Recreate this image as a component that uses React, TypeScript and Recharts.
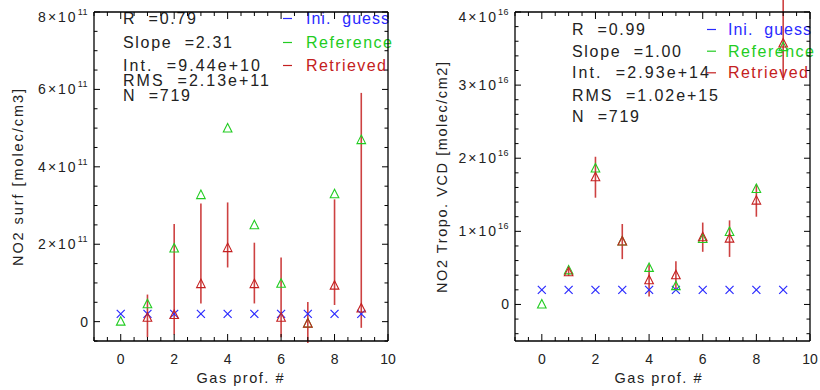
import React from "react";
import { ScatterChart, Scatter, XAxis, YAxis, ErrorBar } from "recharts";

// gas profile index
const profiles = [0, 1, 2, 3, 4, 5, 6, 7, 8, 9];

// NO2 surface concentration [molec/cm3]
const surfIni = [2.0e10, 2.0e10, 2.0e10, 2.0e10, 2.0e10, 2.0e10, 2.0e10, 2.0e10, 2.0e10, 2.0e10];
const surfRef = [0, 4.5e10, 1.89e11, 3.27e11, 4.99e11, 2.49e11, 0.98e11, -0.05e11, 3.29e11, 4.69e11];
const surfRet = [null, 1.0e10, 1.7e10, 0.97e11, 1.9e11, 0.97e11, 0.1e11, -0.05e11, 0.93e11, 0.34e11];
const surfErr = [null, 6.0e10, 2.35e11, 2.08e11, 1.18e11, 1.07e11, 1.56e11, 0.56e11, 2.23e11, 5.57e11];

// NO2 tropospheric VCD [molec/cm2]
const vcdIni = [2.0e15, 2.0e15, 2.0e15, 2.0e15, 2.0e15, 2.0e15, 2.0e15, 2.0e15, 2.0e15, 2.0e15];
const vcdRef = [0, 0.466e16, 1.86e16, 0.86e16, 0.5e16, 0.25e16, 0.895e16, 0.99e16, 1.58e16, 3.52e16];
const vcdRet = [null, 0.44e16, 1.74e16, 0.86e16, 0.33e16, 0.4e16, 0.92e16, 0.9e16, 1.42e16, 3.57e16];
const vcdErr = [null, 0.05e16, 0.28e16, 0.24e16, 0.22e16, 0.19e16, 0.2e16, 0.25e16, 0.22e16, 0.62e16];

// statistics text
const surfStats = ["R  =0.79", "Slope  =2.31", "Int.  =9.44e+10", "RMS  =2.13e+11", "N  =719"];
const vcdStats = ["R  =0.99", "Slope  =1.00", "Int.  =2.93e+14", "RMS  =1.02e+15", "N  =719"];
const legendNames = ["Ini.  guess", "Reference", "Retrieved"];

const xMajor = [0, 2, 4, 6, 8, 10];
const surfMajor = [0, 2e11, 4e11, 6e11, 8e11];
const vcdMajor = [0, 1e16, 2e16, 3e16, 4e16];

// printed widths of the text lines (px)
const statWidths = [73, 109, 137, 146, 67];
const legendWidths = [83, 86, 80];

const BLUE = "#2a2aff";
const GREEN = "#22cc22";
const RED = "#c42020";
const FONT = "'Liberation Sans', Arial, Helvetica, sans-serif";

function steps(from: number, to: number, step: number) {
  const start = Math.ceil(from / step - 1e-6);
  const out: number[] = [];
  for (let i = start; i * step <= to + step * 1e-6; i++) out.push(Number((i * step).toPrecision(10)));
  return out;
}

const isMajor = (v: number, majors: number[], step: number) => majors.some((m) => Math.abs(m - v) < step * 0.01);

const Cross = (p: any) => {
  const { cx, cy } = p;
  if (cx == null || cy == null) return null;
  return (
    <path
      d={`M${cx - 4},${cy - 4}L${cx + 4},${cy + 4}M${cx - 4},${cy + 4}L${cx + 4},${cy - 4}`}
      stroke={BLUE}
      strokeWidth={1.2}
      fill="none"
    />
  );
};

const triangle = (color: string) => (p: any) => {
  const { cx, cy } = p;
  if (cx == null || cy == null) return null;
  return (
    <path
      d={`M${cx},${cy - 5}L${cx + 4.3},${cy + 3.5}L${cx - 4.3},${cy + 3.5}Z`}
      stroke={color}
      strokeWidth={1.1}
      fill="none"
    />
  );
};

type PanelProps = {
  ini: number[];
  refv: number[];
  ret: (number | null)[];
  err: (number | null)[];
  yDomain: [number, number];
  yStep: number;
  yMajor: number[];
  unit: number;
  exp: string;
  leftW: number;
  rightW: number;
  stats: string[];
  statX: number;
  statY: number[];
  legDash: number;
  legX: number;
  yLabel: string;
  yLabelX: number;
  yLabelLen: number;
  xLabelX: number;
};

function Panel(props: PanelProps) {
  const { ini, refv, ret, err, yDomain, yStep, yMajor, unit, exp } = props;
  const iniData = profiles.map((x, i) => ({ x, y: ini[i] }));
  const refData = profiles.map((x, i) => ({ x, y: refv[i] }));
  const retData = profiles
    .map((x, i) => ({ x, y: ret[i] as number, err: err[i] as number }))
    .filter((d) => d.y != null);

  // error bars are cut at the frame of the plot
  const errRange = (d: any) => [Math.min(d.err, d.y - yDomain[0]), Math.min(d.err, yDomain[1] - d.y)];

  const yTicks = steps(yDomain[0], yDomain[1], yStep);
  const xTicks = steps(-1, 10, 0.5);
  const top = yDomain[1];

  const LeftTick = (p: any) => {
    const { x, y, payload } = p;
    const v = payload.value;
    const major = isMajor(v, yMajor, yStep);
    const shift = Math.abs(v - top) < yStep * 0.01 ? 5 : 0;
    return (
      <g>
        <line x1={x} x2={x + (major ? 6 : 3.5)} y1={y} y2={y} stroke="#000" strokeWidth={1} />
        {major &&
          (Math.abs(v) < yStep * 0.01 ? (
            <text x={x - 6} y={y + 5} textAnchor="end" fontSize={14} fontFamily={FONT} fill="#222">
              0
            </text>
          ) : (
            <text x={x - 6} y={y + 5 + shift} textAnchor="end" fontSize={14} fontFamily={FONT} fill="#222">
              <tspan style={{ letterSpacing: "2px" }}>{`${Math.round(v / unit)}×10`}</tspan>
              <tspan dy={-7} fontSize={9} style={{ letterSpacing: "0.5px" }}>
                {exp}
              </tspan>
            </text>
          ))}
      </g>
    );
  };

  const RightTick = (p: any) => {
    const { x, y, payload } = p;
    const major = isMajor(payload.value, yMajor, yStep);
    return <line x1={x} x2={x - (major ? 6 : 3.5)} y1={y} y2={y} stroke="#000" strokeWidth={1} />;
  };

  const BottomTick = (p: any) => {
    const { x, y, payload } = p;
    const v = payload.value;
    const major = isMajor(v, xMajor, 0.5);
    return (
      <g>
        <line x1={x} x2={x} y1={y} y2={y - (major ? 7 : 4)} stroke="#000" strokeWidth={1} />
        {major && (
          <text x={x} y={y + 22.5} textAnchor="middle" fontSize={14} fontFamily={FONT} fill="#222">
            {v}
          </text>
        )}
      </g>
    );
  };

  const TopTick = (p: any) => {
    const { x, y, payload } = p;
    const major = isMajor(payload.value, xMajor, 0.5);
    return <line x1={x} x2={x} y1={y} y2={y + (major ? 7 : 4)} stroke="#000" strokeWidth={1} />;
  };

  const colors = [BLUE, GREEN, RED];
  const pre = { whiteSpace: "pre" } as const;

  return (
    <div style={{ position: "relative", width: 410, height: 390 }}>
      <svg width={410} height={390} style={{ position: "absolute", left: 0, top: 0 }}>
        {props.stats.map((s, i) => (
          <text
            key={s}
            x={props.statX}
            y={props.statY[i]}
            fill="#222"
            fontSize={16}
            fontFamily={FONT}
            textLength={statWidths[i]}
            lengthAdjust="spacing"
            style={pre}
          >
            {s}
          </text>
        ))}
        {legendNames.map((n, i) => (
          <g key={n}>
            <line
              x1={props.legDash}
              x2={props.legDash + 9}
              y1={props.statY[i] - 5.5}
              y2={props.statY[i] - 5.5}
              stroke={colors[i]}
              strokeWidth={1.2}
            />
            <text
              x={props.legX}
              y={props.statY[i]}
              fill={colors[i]}
              fontSize={16}
              fontFamily={FONT}
              textLength={legendWidths[i]}
              lengthAdjust="spacing"
              style={pre}
            >
              {n}
            </text>
          </g>
        ))}
        <text
          transform={`translate(${props.yLabelX},177.5) rotate(-90)`}
          textAnchor="middle"
          fontSize={14.5}
          fontFamily={FONT}
          textLength={props.yLabelLen}
          lengthAdjust="spacing"
          fill="#222"
        >
          {props.yLabel}
        </text>
        <text
          x={props.xLabelX}
          y={383}
          textAnchor="middle"
          fontSize={14.5}
          fontFamily={FONT}
          textLength={87}
          lengthAdjust="spacing"
          fill="#222"
        >
          Gas prof. #
        </text>
      </svg>
      <div style={{ position: "absolute", left: 0, top: 0 }}>
        <ScatterChart width={410} height={390} margin={{ top: 0, right: 0, bottom: 0, left: 0 }}>
          <XAxis
            xAxisId="b"
            type="number"
            dataKey="x"
            domain={[-1, 10]}
            allowDataOverflow
            ticks={xTicks}
            interval={0}
            height={49}
            tickSize={0}
            tickMargin={0}
            tickLine={false}
            tick={BottomTick}
            axisLine={{ stroke: "#000", strokeWidth: 1.3 }}
          />
          <XAxis
            xAxisId="t"
            orientation="top"
            type="number"
            dataKey="x"
            domain={[-1, 10]}
            allowDataOverflow
            ticks={xTicks}
            interval={0}
            height={12}
            tickSize={0}
            tickMargin={0}
            tickLine={false}
            tick={TopTick}
            axisLine={{ stroke: "#000", strokeWidth: 1.3 }}
          />
          <YAxis
            yAxisId="l"
            type="number"
            dataKey="y"
            domain={yDomain}
            allowDataOverflow
            ticks={yTicks}
            interval={0}
            width={props.leftW}
            tickSize={0}
            tickMargin={0}
            tickLine={false}
            tick={LeftTick}
            axisLine={{ stroke: "#000", strokeWidth: 1.3 }}
          />
          <YAxis
            yAxisId="r"
            orientation="right"
            type="number"
            dataKey="y"
            domain={yDomain}
            allowDataOverflow
            ticks={yTicks}
            interval={0}
            width={props.rightW}
            tickSize={0}
            tickMargin={0}
            tickLine={false}
            tick={RightTick}
            axisLine={{ stroke: "#000", strokeWidth: 1.3 }}
          />
          <Scatter xAxisId="b" yAxisId="l" data={iniData} shape={Cross} isAnimationActive={false} />
          <Scatter xAxisId="b" yAxisId="l" data={refData} shape={triangle(GREEN)} isAnimationActive={false} />
          <Scatter xAxisId="b" yAxisId="l" data={retData} shape={triangle(RED)} isAnimationActive={false}>
            <ErrorBar dataKey={errRange} direction="y" width={0} stroke={RED} strokeWidth={1.6} strokeOpacity={0.85} />
          </Scatter>
        </ScatterChart>
      </div>
    </div>
  );
}

export default function App() {
  return (
    <div style={{ position: "absolute", left: 0, top: 0, width: 820, height: 390, background: "#fff", display: "flex" }}>
      <Panel
        ini={surfIni}
        refv={surfRef}
        ret={surfRet}
        err={surfErr}
        yDomain={[-0.5e11, 8e11]}
        yStep={0.5e11}
        yMajor={surfMajor}
        unit={1e11}
        exp="11"
        leftW={94}
        rightW={22}
        stats={surfStats}
        statX={123}
        statY={[24, 48, 71, 86, 101]}
        legDash={283}
        legX={306}
        yLabel="NO2 surf [molec/cm3]"
        yLabelX={23}
        yLabelLen={177}
        xLabelX={240}
      />
      <Panel
        ini={vcdIni}
        refv={vcdRef}
        ret={vcdRet}
        err={vcdErr}
        yDomain={[-0.5e16, 4e16]}
        yStep={0.2e16}
        yMajor={vcdMajor}
        unit={1e16}
        exp="16"
        leftW={105}
        rightW={10}
        stats={vcdStats}
        statX={162}
        statY={[35, 56.7, 78.3, 100.7, 122.3]}
        legDash={297}
        legX={318}
        yLabel="NO2 Tropo. VCD [molec/cm2]"
        yLabelX={37}
        yLabelLen={231}
        xLabelX={248}
      />
    </div>
  );
}
